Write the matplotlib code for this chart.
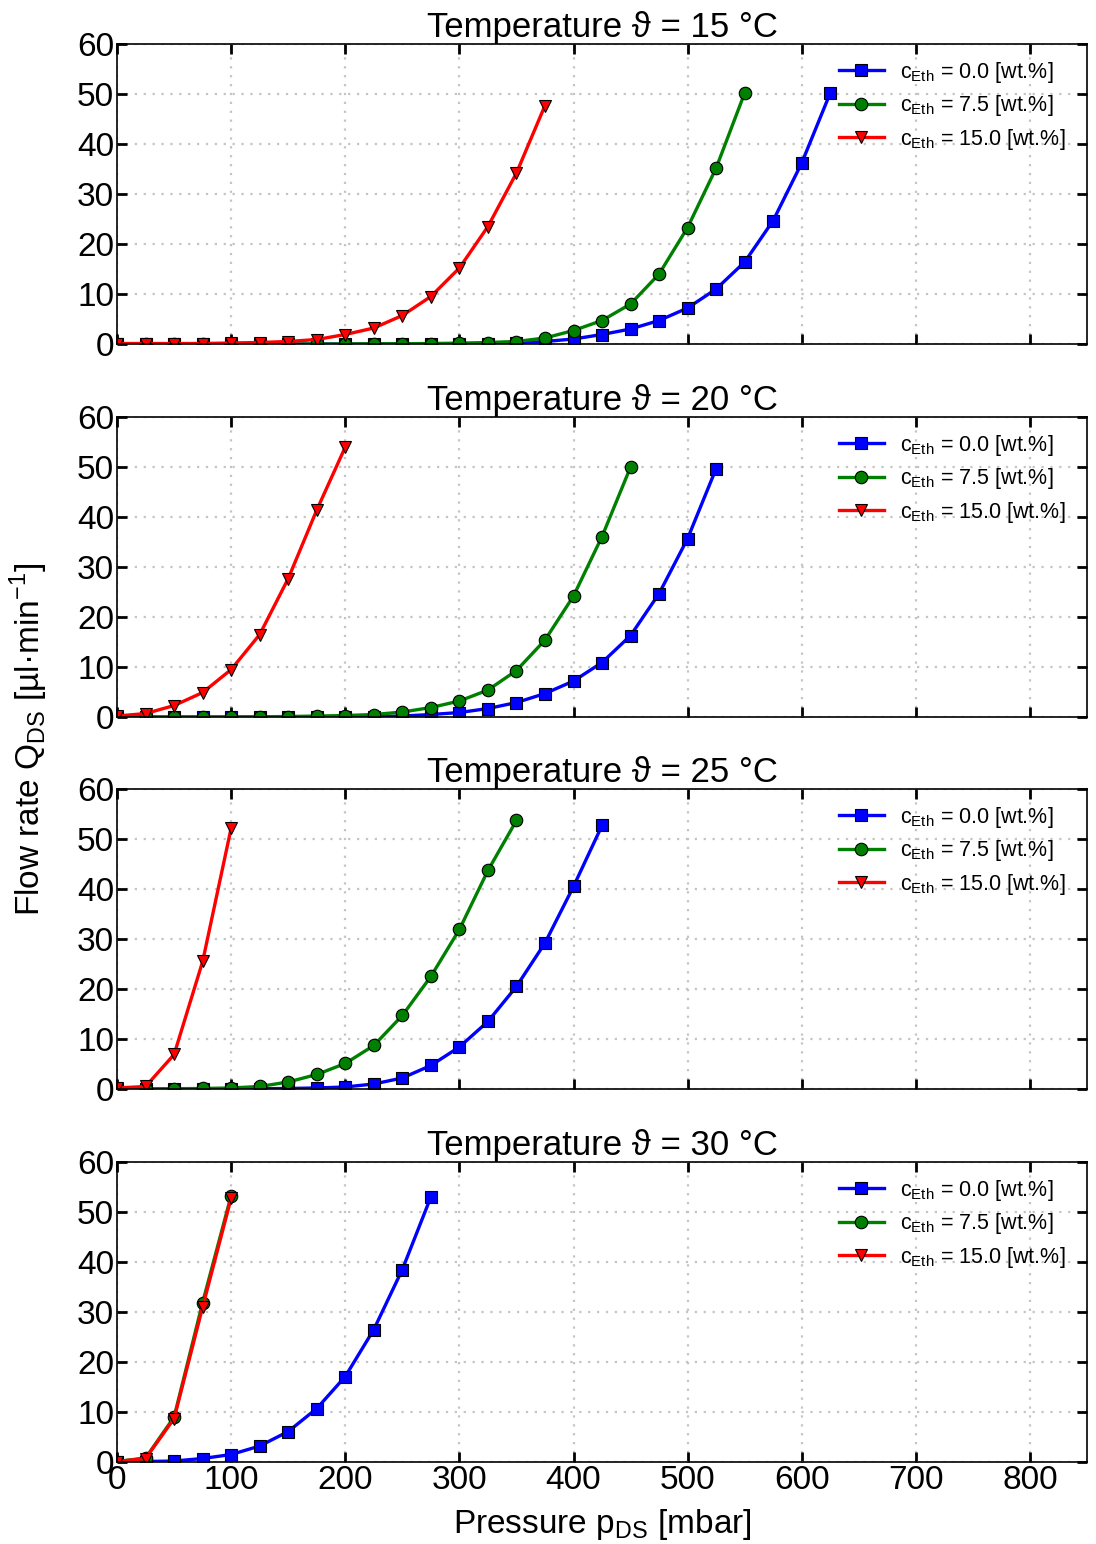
import matplotlib
matplotlib.use("Agg")
import matplotlib.pyplot as plt
from matplotlib.ticker import MultipleLocator

plt.rcParams["font.family"] = ["Liberation Sans", "DejaVu Sans"]
plt.rcParams["mathtext.fontset"] = "custom"
plt.rcParams["mathtext.rm"] = "Liberation Sans"

# pressure steps [mbar] and measured flow rates [ul/min] per temperature
temps = [15, 20, 25, 30]
conc_labels = ["0.0", "7.5", "15.0"]

p_15_c00 = list(range(0, 626, 25))
q_15_c00 = [0.0, 0.0, 0.0, 0.0, 0.0, 0.0, 0.0, 0.0, 0.0, 0.0, 0.05, 0.05, 0.1,
            0.1, 0.2, 0.5, 1.0, 1.9, 3.0, 4.7, 7.2, 11.0, 16.4, 24.7, 36.2, 50.2]
p_15_c75 = list(range(0, 551, 25))
q_15_c75 = [0.0, 0.0, 0.0, 0.0, 0.0, 0.0, 0.0, 0.0, 0.0, 0.05, 0.05, 0.1, 0.15,
            0.3, 0.5, 1.2, 2.7, 4.7, 8.0, 14.0, 23.3, 35.2, 50.2]
p_15_c150 = list(range(0, 376, 25))
q_15_c150 = [0.1, 0.1, 0.1, 0.1, 0.2, 0.3, 0.5, 0.9, 1.9, 3.2, 5.7, 9.5, 15.2,
             23.5, 34.2, 47.7]

p_20_c00 = list(range(0, 526, 25))
q_20_c00 = [0.0, 0.0, 0.0, 0.0, 0.0, 0.0, 0.0, 0.0, 0.05, 0.1, 0.2, 0.5, 0.9,
            1.7, 2.9, 4.7, 7.2, 10.9, 16.3, 24.7, 35.7, 49.7]
p_20_c75 = list(range(0, 451, 25))
q_20_c75 = [0.0, 0.0, 0.0, 0.0, 0.0, 0.05, 0.1, 0.2, 0.3, 0.5, 1.0, 1.9, 3.2,
            5.4, 9.3, 15.4, 24.2, 36.1, 50.0]
p_20_c150 = list(range(0, 201, 25))
q_20_c150 = [0.2, 0.7, 2.3, 4.9, 9.5, 16.5, 27.7, 41.4, 54.0]

p_25_c00 = list(range(0, 426, 25))
q_25_c00 = [0.0, 0.0, 0.0, 0.0, 0.0, 0.05, 0.1, 0.2, 0.4, 1.0, 2.2, 4.7, 8.4,
            13.5, 20.5, 29.2, 40.5, 52.7]
p_25_c75 = list(range(0, 351, 25))
q_25_c75 = [0.0, 0.0, 0.05, 0.1, 0.2, 0.5, 1.4, 2.9, 5.1, 8.7, 14.7, 22.5, 31.9,
            43.7, 53.7]
p_25_c150 = list(range(0, 101, 25))
q_25_c150 = [0.2, 0.5, 6.9, 25.5, 52.2]

p_30_c00 = list(range(0, 276, 25))
q_30_c00 = [0.0, 0.1, 0.2, 0.7, 1.5, 3.2, 6.1, 10.7, 17.1, 26.5, 38.5, 53.0]
p_30_c75 = list(range(0, 101, 25))
q_30_c75 = [0.1, 0.8, 9.0, 31.9, 53.3]
p_30_c150 = list(range(0, 101, 25))
q_30_c150 = [0.1, 0.7, 8.7, 31.0, 52.8]

series = {
    15: [(p_15_c00, q_15_c00), (p_15_c75, q_15_c75), (p_15_c150, q_15_c150)],
    20: [(p_20_c00, q_20_c00), (p_20_c75, q_20_c75), (p_20_c150, q_20_c150)],
    25: [(p_25_c00, q_25_c00), (p_25_c75, q_25_c75), (p_25_c150, q_25_c150)],
    30: [(p_30_c00, q_30_c00), (p_30_c75, q_30_c75), (p_30_c150, q_30_c150)],
}
colors = ["#0000ff", "#008000", "#ff0000"]
markers = ["s", "o", "v"]

fig = plt.figure(figsize=(10.96, 15.44), dpi=100)
left, width, height = 0.1068, 0.885, 0.1943
bottoms = [0.7772, 0.5356, 0.2947, 0.0531]

for i, T in enumerate(temps):
    ax = fig.add_axes([left, bottoms[i], width, height])
    for (p, q), c, m, lab in zip(series[T], colors, markers, conc_labels):
        ax.plot(p, q, color=c, marker=m, lw=2.4, ms=9, mec="black", mew=0.8,
                label=r"$\mathregular{c_{Eth}}$ = %s [wt.%%]" % lab)
    ax.set_xlim(0, 850)
    ax.set_ylim(0, 60)
    ax.xaxis.set_major_locator(MultipleLocator(100))
    ax.yaxis.set_major_locator(MultipleLocator(10))
    ax.grid(True, linestyle=(0, (1, 3)), color="#c4c4c4", lw=1.6)
    ax.tick_params(direction="in", top=True, right=True, length=7, width=2,
                   labelsize=24, pad=2)
    for s in ax.spines.values():
        s.set_linewidth(1.2)
    if i < 3:
        ax.tick_params(labelbottom=False)
    ax.set_title("Temperature ϑ = %d °C" % T, fontsize=25, pad=5)
    ax.legend(loc="upper right", bbox_to_anchor=(1.0, 1.02), frameon=False,
              fontsize=15.5, numpoints=1, handlelength=2.1, handletextpad=0.75,
              labelspacing=0.4, borderaxespad=0.6)

fig.text(0.026, 0.521, r"Flow rate Q$_\mathregular{DS}$ [µl·min$^\mathregular{-1}$]",
         rotation=90, ha="center", va="center", fontsize=24)
fig.text(0.550, 0.0125, r"Pressure p$_\mathregular{DS}$ [mbar]",
         ha="center", va="center", fontsize=24)

fig.savefig("out.png", dpi=100)
